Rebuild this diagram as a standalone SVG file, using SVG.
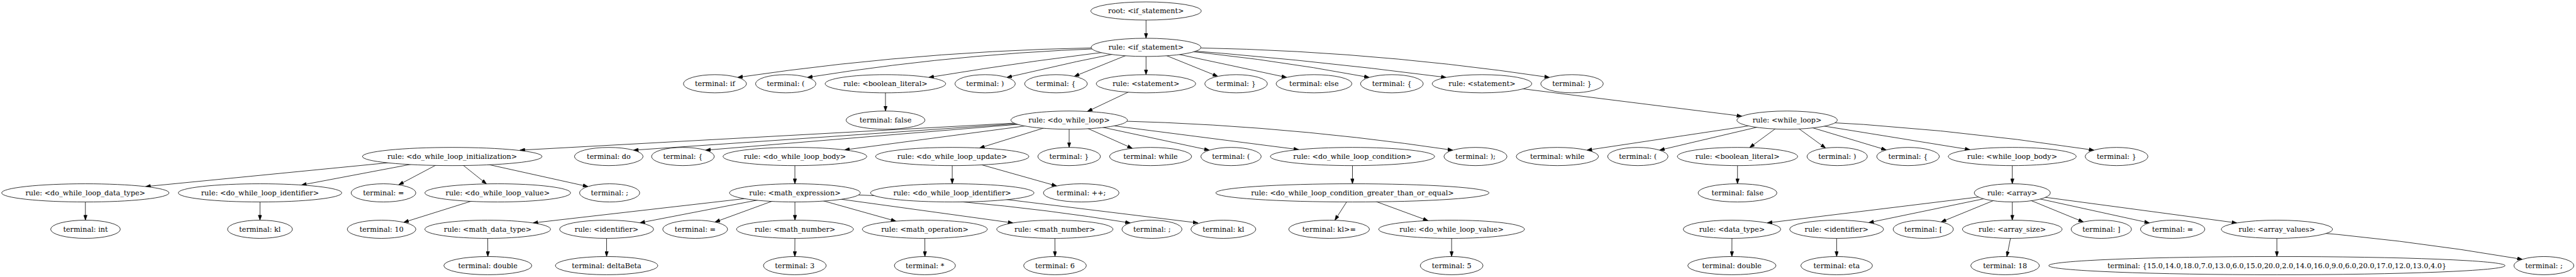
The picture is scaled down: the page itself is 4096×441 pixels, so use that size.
<svg xmlns="http://www.w3.org/2000/svg" width="4096" height="441" viewBox="0 0 4096 441">
<style>
ellipse{fill:#fff;stroke:#000;stroke-width:1.33}
text{font-family:"DejaVu Serif",serif;font-size:18.67px;text-anchor:middle;fill:#000}
#edges path{fill:none;stroke:#000;stroke-width:1.33;marker-end:url(#ah)}
</style>
<defs>
<marker id="ah" markerUnits="userSpaceOnUse" markerWidth="14" markerHeight="10" viewBox="0 0 14 10" refX="13.5" refY="5" orient="auto">
<path d="M0.5,0.4 L13.5,5 L0.5,9.6 z" fill="#000" stroke="#000" stroke-width="1"/>
</marker>
</defs>
<rect width="4096" height="441" fill="#fff"/>
<g transform="scale(0.6034 0.6033)">
<g id="edges">
<path d="M3020,29 L3020,101"/>
<path d="M3020,125 Q2481.9,125 1943.8,204.3"/>
<path d="M3020,125 Q2573.9,132.9 2127.7,204.3"/>
<path d="M3020,125 Q2733.8,156.7 2447.5,204.3"/>
<path d="M3020,125 Q2836.6,160.7 2653.2,204.3"/>
<path d="M3020,125 L2830.9,201.5"/>
<path d="M3020,125 L3020,197"/>
<path d="M3020,125 L3209.1,201.5"/>
<path d="M3020,125 L3390.7,204.3"/>
<path d="M3020,125 Q3314.2,148.8 3608.3,204.3"/>
<path d="M3020,125 Q3415.4,152.8 3810.8,204.3"/>
<path d="M3020,125 Q3551.6,125 4083.2,204.3"/>
<path d="M2333.2,221 L2333.5,293"/>
<path d="M3019.8,221 L2865.4,294.2"/>
<path d="M3905.3,221 L4590,306.5"/>
<path d="M2817.4,317 L1370,396.3"/>
<path d="M2817.4,317 L1669.3,396.3"/>
<path d="M2817.4,317 L1859.1,396.3"/>
<path d="M2817.4,317 L2225.4,395.6"/>
<path d="M2817.4,317 L2581.2,390.6"/>
<path d="M2817.4,317 L2817.4,389"/>
<path d="M2817.4,317 L2984,391.5"/>
<path d="M2817.4,317 L3186.8,396.3"/>
<path d="M2817.4,317 L3422.6,394.8"/>
<path d="M2817.4,317 Q3322.9,321 3828.3,396.3"/>
<path d="M4709.3,317 L4181.9,396.3"/>
<path d="M4709.3,317 L4373.2,396.3"/>
<path d="M4709.3,317 L4610.6,389.5"/>
<path d="M4709.3,317 L4810.8,390.8"/>
<path d="M4709.3,317 L4970.7,395.7"/>
<path d="M4709.3,317 L5191.2,395"/>
<path d="M4709.3,317 Q5113.7,334.4 5518,396.3"/>
<path d="M1191.7,413 L383.7,492.3"/>
<path d="M1191.7,413 L794.3,488.3"/>
<path d="M1191.7,413 L1050.5,487.8"/>
<path d="M1191.7,413 L1282,485.3"/>
<path d="M1191.7,413 L1549.4,492.3"/>
<path d="M224.9,509 L225.1,581"/>
<path d="M685.2,509 L685.1,581"/>
<path d="M1311.6,509 L1063.9,586.7"/>
<path d="M2094.7,413 L2094.7,485"/>
<path d="M2094.7,509 L1404.5,588.3"/>
<path d="M2094.7,509 L1686.2,588"/>
<path d="M2094.7,509 L1884,586"/>
<path d="M2094.7,509 L2094.9,581"/>
<path d="M2094.7,509 L2361.1,583.7"/>
<path d="M2094.7,509 L2669.4,588.3"/>
<path d="M2094.7,509 Q2536.7,516.9 2978.6,588.3"/>
<path d="M2509.3,413 L2509.3,485"/>
<path d="M2509.3,413 L2784.5,490.7"/>
<path d="M2509.3,509 L3157,588.3"/>
<path d="M1285.2,605 L1285.5,677"/>
<path d="M1598.5,605 L1598.5,677"/>
<path d="M2094.9,605 L2094.5,677"/>
<path d="M2437.1,605 L2437.3,677"/>
<path d="M2779.7,605 L2780.1,677"/>
<path d="M3564,413 L3563.9,485"/>
<path d="M3563.9,509 L3517.6,581.2"/>
<path d="M3563.9,509 L3763.3,582.3"/>
<path d="M3825.2,605 L3825.3,677"/>
<path d="M4578.6,413 L4578.6,485"/>
<path d="M5302.6,413 L5302.8,485"/>
<path d="M5302.8,509 L4656.7,588.3"/>
<path d="M5302.8,509 L4924.4,587.5"/>
<path d="M5302.8,509 L5115.3,585.7"/>
<path d="M5302.8,509 L5302.7,581"/>
<path d="M5302.8,509 L5490.1,585.7"/>
<path d="M5302.8,509 L5664.2,588.3"/>
<path d="M5302.8,509 L5894.5,588.3"/>
<path d="M4564.1,605 L4563.8,677"/>
<path d="M4839.8,605 L4839.9,677"/>
<path d="M5302.7,605 L5288.4,677"/>
<path d="M6000,605 L6000,677"/>
<path d="M6000,605 Q6323.4,628.8 6646.7,684.3"/>
</g>
<g id="n0"><ellipse cx="3020" cy="29" rx="145.5" ry="24"/><text x="3020" y="35">root: &lt;if_statement&gt;</text></g>
<g id="n1"><ellipse cx="3020" cy="125" rx="144.5" ry="24"/><text x="3020" y="131">rule: &lt;if_statement&gt;</text></g>
<g id="n2"><ellipse cx="1884" cy="221" rx="83.1" ry="24"/><text x="1884" y="227">terminal: if</text></g>
<g id="n3"><ellipse cx="2070.5" cy="221" rx="79.5" ry="24"/><text x="2070.5" y="227">terminal: (</text></g>
<g id="n4"><ellipse cx="2333.2" cy="221" rx="158.8" ry="24"/><text x="2333.2" y="227">rule: &lt;boolean_literal&gt;</text></g>
<g id="n5"><ellipse cx="2596" cy="221" rx="79.5" ry="24"/><text x="2596" y="227">terminal: )</text></g>
<g id="n6"><ellipse cx="2782.7" cy="221" rx="82.6" ry="24"/><text x="2782.7" y="227">terminal: {</text></g>
<g id="n7"><ellipse cx="3019.8" cy="221" rx="130.9" ry="24"/><text x="3019.8" y="227">rule: &lt;statement&gt;</text></g>
<g id="n8"><ellipse cx="3257.3" cy="221" rx="82.5" ry="24"/><text x="3257.3" y="227">terminal: }</text></g>
<g id="n9"><ellipse cx="3462.6" cy="221" rx="99.9" ry="24"/><text x="3462.6" y="227">terminal: else</text></g>
<g id="n10"><ellipse cx="3667.8" cy="221" rx="82.7" ry="24"/><text x="3667.8" y="227">terminal: {</text></g>
<g id="n11"><ellipse cx="3905.3" cy="221" rx="131.2" ry="24"/><text x="3905.3" y="227">rule: &lt;statement&gt;</text></g>
<g id="n12"><ellipse cx="4142.5" cy="221" rx="82.4" ry="24"/><text x="4142.5" y="227">terminal: }</text></g>
<g id="n13"><ellipse cx="2333.5" cy="317" rx="104" ry="24"/><text x="2333.5" y="323">terminal: false</text></g>
<g id="n14"><ellipse cx="2817.4" cy="317" rx="153.4" ry="24"/><text x="2817.4" y="323">rule: &lt;do_while_loop&gt;</text></g>
<g id="n15"><ellipse cx="4709.3" cy="317" rx="132.2" ry="24"/><text x="4709.3" y="323">rule: &lt;while_loop&gt;</text></g>
<g id="n16"><ellipse cx="1191.7" cy="413" rx="236.6" ry="24"/><text x="1191.7" y="419">rule: &lt;do_while_loop_initialization&gt;</text></g>
<g id="n17"><ellipse cx="1604.2" cy="413" rx="90.4" ry="24"/><text x="1604.2" y="419">terminal: do</text></g>
<g id="n18"><ellipse cx="1799.6" cy="413" rx="82.7" ry="24"/><text x="1799.6" y="419">terminal: {</text></g>
<g id="n19"><ellipse cx="2094.7" cy="413" rx="189.4" ry="24"/><text x="2094.7" y="419">rule: &lt;do_while_loop_body&gt;</text></g>
<g id="n20"><ellipse cx="2509.3" cy="413" rx="202" ry="24"/><text x="2509.3" y="419">rule: &lt;do_while_loop_update&gt;</text></g>
<g id="n21"><ellipse cx="2817.4" cy="413" rx="82.5" ry="24"/><text x="2817.4" y="419">terminal: }</text></g>
<g id="n22"><ellipse cx="3032" cy="413" rx="108.2" ry="24"/><text x="3032" y="419">terminal: while</text></g>
<g id="n23"><ellipse cx="3244" cy="413" rx="79.5" ry="24"/><text x="3244" y="419">terminal: (</text></g>
<g id="n24"><ellipse cx="3564" cy="413" rx="216.5" ry="24"/><text x="3564" y="419">rule: &lt;do_while_loop_condition&gt;</text></g>
<g id="n25"><ellipse cx="3888.1" cy="413" rx="83" ry="24"/><text x="3888.1" y="419">terminal: );</text></g>
<g id="n26"><ellipse cx="4103.9" cy="413" rx="108.4" ry="24"/><text x="4103.9" y="419">terminal: while</text></g>
<g id="n27"><ellipse cx="4316" cy="413" rx="79.5" ry="24"/><text x="4316" y="419">terminal: (</text></g>
<g id="n28"><ellipse cx="4578.6" cy="413" rx="158.5" ry="24"/><text x="4578.6" y="419">rule: &lt;boolean_literal&gt;</text></g>
<g id="n29"><ellipse cx="4841.3" cy="413" rx="79.5" ry="24"/><text x="4841.3" y="419">terminal: )</text></g>
<g id="n30"><ellipse cx="5028" cy="413" rx="82.5" ry="24"/><text x="5028" y="419">terminal: {</text></g>
<g id="n31"><ellipse cx="5302.6" cy="413" rx="168.6" ry="24"/><text x="5302.6" y="419">rule: &lt;while_loop_body&gt;</text></g>
<g id="n32"><ellipse cx="5577.5" cy="413" rx="82.7" ry="24"/><text x="5577.5" y="419">terminal: }</text></g>
<g id="n33"><ellipse cx="224.9" cy="509" rx="220.5" ry="24"/><text x="224.9" y="515">rule: &lt;do_while_loop_data_type&gt;</text></g>
<g id="n34"><ellipse cx="685.2" cy="509" rx="215.4" ry="24"/><text x="685.2" y="515">rule: &lt;do_while_loop_identifier&gt;</text></g>
<g id="n35"><ellipse cx="1010.5" cy="509" rx="85.3" ry="24"/><text x="1010.5" y="515">terminal: =</text></g>
<g id="n36"><ellipse cx="1311.6" cy="509" rx="192" ry="24"/><text x="1311.6" y="515">rule: &lt;do_while_loop_value&gt;</text></g>
<g id="n37"><ellipse cx="1606.5" cy="509" rx="79.3" ry="24"/><text x="1606.5" y="515">terminal: ;</text></g>
<g id="n38"><ellipse cx="2094.7" cy="509" rx="172.4" ry="24"/><text x="2094.7" y="515">rule: &lt;math_expression&gt;</text></g>
<g id="n39"><ellipse cx="2509.3" cy="509" rx="215.5" ry="24"/><text x="2509.3" y="515">rule: &lt;do_while_loop_identifier&gt;</text></g>
<g id="n40"><ellipse cx="2849.2" cy="509" rx="99.7" ry="24"/><text x="2849.2" y="515">terminal: ++;</text></g>
<g id="n41"><ellipse cx="3563.9" cy="509" rx="360.1" ry="24"/><text x="3563.9" y="515">rule: &lt;do_while_loop_condition_greater_than_or_equal&gt;</text></g>
<g id="n42"><ellipse cx="4578.6" cy="509" rx="103.9" ry="24"/><text x="4578.6" y="515">terminal: false</text></g>
<g id="n43"><ellipse cx="5302.8" cy="509" rx="100.4" ry="24"/><text x="5302.8" y="515">rule: &lt;array&gt;</text></g>
<g id="n44"><ellipse cx="225.3" cy="605" rx="91.8" ry="24"/><text x="225.3" y="611">terminal: int</text></g>
<g id="n45"><ellipse cx="685.1" cy="605" rx="85.6" ry="24"/><text x="685.1" y="611">terminal: kl</text></g>
<g id="n46"><ellipse cx="1005.5" cy="605" rx="90.4" ry="24"/><text x="1005.5" y="611">terminal: 10</text></g>
<g id="n47"><ellipse cx="1285.2" cy="605" rx="165.7" ry="24"/><text x="1285.2" y="611">rule: &lt;math_data_type&gt;</text></g>
<g id="n48"><ellipse cx="1598.5" cy="605" rx="124" ry="24"/><text x="1598.5" y="611">rule: &lt;identifier&gt;</text></g>
<g id="n49"><ellipse cx="1831.9" cy="605" rx="85.5" ry="24"/><text x="1831.9" y="611">terminal: =</text></g>
<g id="n50"><ellipse cx="2094.9" cy="605" rx="154" ry="24"/><text x="2094.9" y="611">rule: &lt;math_number&gt;</text></g>
<g id="n51"><ellipse cx="2437.1" cy="605" rx="164.7" ry="24"/><text x="2437.1" y="611">rule: &lt;math_operation&gt;</text></g>
<g id="n52"><ellipse cx="2779.7" cy="605" rx="153.2" ry="24"/><text x="2779.7" y="611">rule: &lt;math_number&gt;</text></g>
<g id="n53"><ellipse cx="3035.6" cy="605" rx="79.1" ry="24"/><text x="3035.6" y="611">terminal: ;</text></g>
<g id="n54"><ellipse cx="3223.8" cy="605" rx="85.5" ry="24"/><text x="3223.8" y="611">terminal: kl</text></g>
<g id="n55"><ellipse cx="3502.4" cy="605" rx="106.4" ry="24"/><text x="3502.4" y="611">terminal: kl&gt;=</text></g>
<g id="n56"><ellipse cx="3825.2" cy="605" rx="192.1" ry="24"/><text x="3825.2" y="611">rule: &lt;do_while_loop_value&gt;</text></g>
<g id="n57"><ellipse cx="4564.1" cy="605" rx="128.6" ry="24"/><text x="4564.1" y="611">rule: &lt;data_type&gt;</text></g>
<g id="n58"><ellipse cx="4839.8" cy="605" rx="123.8" ry="24"/><text x="4839.8" y="611">rule: &lt;identifier&gt;</text></g>
<g id="n59"><ellipse cx="5068.1" cy="605" rx="79.4" ry="24"/><text x="5068.1" y="611">terminal: [</text></g>
<g id="n60"><ellipse cx="5302.7" cy="605" rx="131.3" ry="24"/><text x="5302.7" y="611">rule: &lt;array_size&gt;</text></g>
<g id="n61"><ellipse cx="5537.3" cy="605" rx="79.6" ry="24"/><text x="5537.3" y="611">terminal: ]</text></g>
<g id="n62"><ellipse cx="5725.3" cy="605" rx="84.9" ry="24"/><text x="5725.3" y="611">terminal: =</text></g>
<g id="n63"><ellipse cx="6000" cy="605" rx="146.5" ry="24"/><text x="6000" y="611">rule: &lt;array_values&gt;</text></g>
<g id="n64"><ellipse cx="1285.5" cy="701" rx="116" ry="24"/><text x="1285.5" y="707">terminal: double</text></g>
<g id="n65"><ellipse cx="1598.5" cy="701" rx="134.9" ry="24"/><text x="1598.5" y="707">terminal: deltaBeta</text></g>
<g id="n66"><ellipse cx="2094.5" cy="701" rx="82.7" ry="24"/><text x="2094.5" y="707">terminal: 3</text></g>
<g id="n67"><ellipse cx="2437.3" cy="701" rx="80.5" ry="24"/><text x="2437.3" y="707">terminal: *</text></g>
<g id="n68"><ellipse cx="2780.1" cy="701" rx="82.6" ry="24"/><text x="2780.1" y="707">terminal: 6</text></g>
<g id="n69"><ellipse cx="3825.3" cy="701" rx="82.7" ry="24"/><text x="3825.3" y="707">terminal: 5</text></g>
<g id="n70"><ellipse cx="4563.8" cy="701" rx="116.3" ry="24"/><text x="4563.8" y="707">terminal: double</text></g>
<g id="n71"><ellipse cx="4839.9" cy="701" rx="94.4" ry="24"/><text x="4839.9" y="707">terminal: eta</text></g>
<g id="n72"><ellipse cx="5283.7" cy="701" rx="90.4" ry="24"/><text x="5283.7" y="707">terminal: 18</text></g>
<g id="n73"><ellipse cx="6000" cy="701" rx="601.3" ry="24"/><text x="6000" y="707">terminal: {15.0,14.0,18.0,7.0,13.0,6.0,15.0,20.0,2.0,14.0,16.0,9.0,6.0,20.0,17.0,12.0,13.0,4.0}</text></g>
<g id="n74"><ellipse cx="6703.6" cy="701" rx="79" ry="24"/><text x="6703.6" y="707">terminal: ;</text></g>
</g>
</svg>
